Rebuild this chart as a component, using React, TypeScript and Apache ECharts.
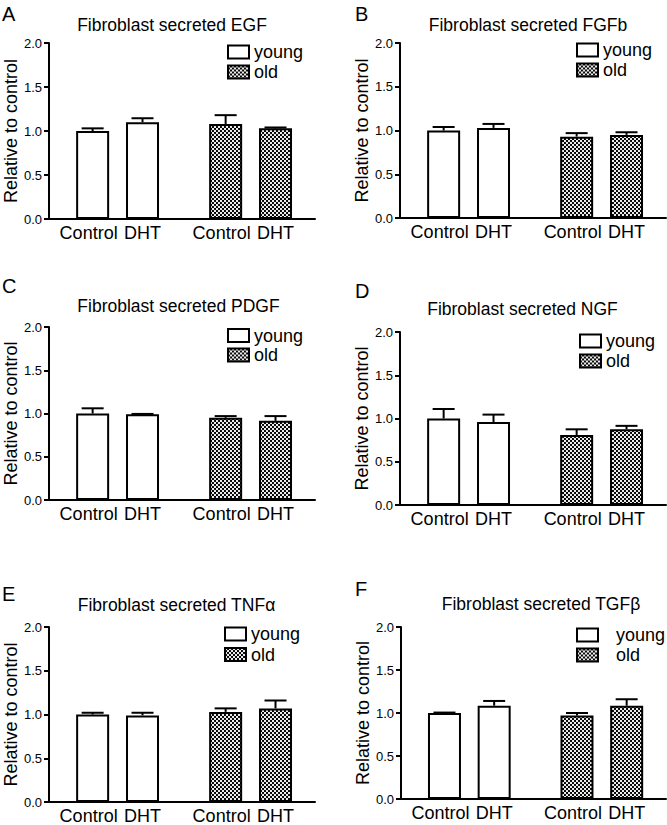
import React, { useEffect, useRef } from 'react';
import * as echarts from 'echarts';

// ---------- data ----------
const panelLetters = ['A', 'B', 'C', 'D', 'E', 'F'];
const panelTitles = [
  'Fibroblast secreted EGF',
  'Fibroblast secreted FGFb',
  'Fibroblast secreted PDGF',
  'Fibroblast secreted NGF',
  'Fibroblast secreted TNFα',
  'Fibroblast secreted TGFβ',
];
const groupNames = ['young', 'old'];
const barLabels = ['Control', 'DHT', 'Control', 'DHT'];
const yTicks = [0, 0.5, 1.0, 1.5, 2.0];
const yAxisTitle = 'Relative to control';

// order: young Control, young DHT, old Control, old DHT
const egfMeans = [1.0, 1.1, 1.08, 1.03];
const egfErrors = [0.03, 0.045, 0.1, 0.01];
const fgfbMeans = [1.0, 1.03, 0.93, 0.95];
const fgfbErrors = [0.04, 0.045, 0.04, 0.03];
const pdgfMeans = [1.0, 0.99, 0.95, 0.915];
const pdgfErrors = [0.06, 0.005, 0.02, 0.055];
const ngfMeans = [1.0, 0.96, 0.81, 0.875];
const ngfErrors = [0.11, 0.085, 0.065, 0.04];
const tnfMeans = [1.0, 0.99, 1.03, 1.07];
const tnfErrors = [0.02, 0.03, 0.04, 0.09];
const tgfMeans = [1.0, 1.085, 0.97, 1.085];
const tgfErrors = [0.005, 0.055, 0.03, 0.075];

const allMeans = [egfMeans, fgfbMeans, pdgfMeans, ngfMeans, tnfMeans, tgfMeans];
const allErrors = [egfErrors, fgfbErrors, pdgfErrors, ngfErrors, tnfErrors, tgfErrors];
const barGroup = [0, 0, 1, 1]; // 0 = young, 1 = old

// ---------- layout ----------
const FONT = "'Liberation Sans', Arial, Helvetica, sans-serif";
const SLOT_COUNT = 64;
const BAR_SLOTS = [10, 22, 42, 54];

const layout = [
  { left: 49, top: 43, height: 176, width: 266, title: [172, 24.5], letter: [2, 13.5], legend: [227, 43, 2, 0] },
  { left: 400, top: 43, height: 175, width: 266, title: [528, 24.5], letter: [355, 13.5], legend: [576, 41, 2, 0] },
  { left: 49, top: 327, height: 173, width: 266, title: [178.5, 305.8], letter: [2, 285.5], legend: [227, 326.5, 1.5, 0] },
  { left: 400, top: 332, height: 173, width: 266, title: [522.5, 309], letter: [355, 290.5], legend: [579, 332, 2, 0] },
  { left: 49, top: 627, height: 175, width: 266, title: [176.5, 604.8], letter: [2, 593.5], legend: [224, 625, 2.5, 0] },
  { left: 401, top: 627, height: 172, width: 265, title: [541, 604], letter: [355, 588.5], legend: [576, 626, 2, 13] },
];

function makeHatch(): HTMLCanvasElement {
  const c = document.createElement('canvas');
  c.width = 16;
  c.height = 16;
  const ctx = c.getContext('2d')!;
  ctx.fillStyle = '#000';
  ctx.fillRect(0, 0, 16, 16);
  ctx.fillStyle = '#fff';
  ctx.beginPath();
  ctx.arc(4, 4, 4.6, 0, Math.PI * 2);
  ctx.fill();
  ctx.beginPath();
  ctx.arc(12, 12, 4.6, 0, Math.PI * 2);
  ctx.fill();
  return c;
}

export default function App() {
  const ref = useRef<HTMLDivElement>(null);

  useEffect(() => {
    document.body.style.margin = '0';
    const chart = echarts.init(ref.current!, null, { renderer: 'svg' });
    const hatch: any = { image: makeHatch(), repeat: 'repeat', imageWidth: 4, imageHeight: 4 };
    const groupStyles = [
      { color: '#ffffff', borderColor: '#000', borderWidth: 2 },
      { color: hatch, borderColor: '#000', borderWidth: 2 },
    ];

    const slotLabels: any[] = [];
    for (let s = 0; s < SLOT_COUNT; s++) {
      const k = BAR_SLOTS.indexOf(s);
      if (k < 0) slotLabels.push('');
      else if (barLabels[k] === 'Control') slotLabels.push({ value: barLabels[k], textStyle: { padding: [0, 8, 0, 0] } });
      else slotLabels.push(barLabels[k]);
    }

    const grid: any[] = [];
    const xAxis: any[] = [];
    const yAxis: any[] = [];
    const series: any[] = [];
    const legend: any[] = [];
    const graphic: any[] = [];

    layout.forEach((L, i) => {
      grid.push({ left: L.left, top: L.top, width: L.width, height: L.height, containLabel: false });
      xAxis.push({
        gridIndex: i,
        type: 'category',
        data: slotLabels,
        boundaryGap: true,
        axisLine: { show: true, lineStyle: { color: '#000', width: 2 } },
        axisTick: { show: false },
        axisLabel: {
          interval: (_idx: number, v: string) => v !== '',
          fontSize: 18,
          color: '#000',
          fontFamily: FONT,
          margin: 5,
        },
        splitLine: { show: false },
      });
      yAxis.push({
        gridIndex: i,
        type: 'value',
        min: yTicks[0],
        max: yTicks[yTicks.length - 1],
        interval: yTicks[1] - yTicks[0],
        axisLine: { show: true, lineStyle: { color: '#000', width: 2 } },
        axisTick: { show: true, length: 5, lineStyle: { color: '#000', width: 2 } },
        axisLabel: {
          formatter: (v: number) => v.toFixed(1),
          fontSize: 13,
          color: '#000',
          fontFamily: FONT,
          margin: 7,
        },
        splitLine: { show: false },
        name: yAxisTitle,
        nameLocation: 'middle',
        nameGap: 28,
        nameTextStyle: { fontSize: 18, color: '#000', fontFamily: FONT },
      });

      const means = allMeans[i];
      const errs = allErrors[i];
      groupNames.forEach((g, gi) => {
        const data: any[] = new Array(SLOT_COUNT).fill('-');
        means.forEach((m, k) => {
          if (barGroup[k] === gi) data[BAR_SLOTS[k]] = m;
        });
        series.push({
          type: 'bar',
          name: g,
          xAxisIndex: i,
          yAxisIndex: i,
          data,
          barWidth: 33,
          barGap: '-100%',
          itemStyle: groupStyles[gi],
          z: 2,
        });
      });
      series.push({
        type: 'custom',
        name: 'err' + i,
        xAxisIndex: i,
        yAxisIndex: i,
        z: 3,
        data: means.map((m, k) => [BAR_SLOTS[k], m, errs[k]]),
        encode: { x: 0, y: 1 },
        renderItem: (_p: any, api: any) => {
          const x = api.value(0);
          const m = api.value(1);
          const e = api.value(2);
          const base = api.coord([x, m]);
          const top = api.coord([x, m + e]);
          return {
            type: 'group',
            children: [
              { type: 'line', shape: { x1: base[0], y1: base[1], x2: top[0], y2: top[1] }, style: { stroke: '#000', lineWidth: 2 } },
              { type: 'line', shape: { x1: top[0] - 11, y1: top[1], x2: top[0] + 11, y2: top[1] }, style: { stroke: '#000', lineWidth: 2 } },
            ],
          };
        },
      });

      legend.push({
        data: groupNames,
        orient: 'vertical',
        left: L.legend[0],
        top: L.legend[1],
        itemGap: L.legend[2],
        padding: 0,
        itemWidth: 21,
        itemHeight: 13,
        icon: 'rect',
        selectedMode: false,
        itemStyle: { borderColor: '#000', borderWidth: 2 },
        textStyle: { fontSize: 18, color: '#000', fontFamily: FONT, padding: [0, 0, 0, L.legend[3]] },
      });

      graphic.push({
        type: 'text',
        x: L.title[0],
        y: L.title[1],
        style: { text: panelTitles[i], fontSize: 17.5, fill: '#000', fontFamily: FONT, textAlign: 'center', textVerticalAlign: 'middle' },
      });
      graphic.push({
        type: 'text',
        x: L.letter[0],
        y: L.letter[1],
        style: { text: panelLetters[i], fontSize: 20, fill: '#000', fontFamily: FONT, textAlign: 'left', textVerticalAlign: 'middle' },
      });
    });

    chart.setOption({
      animation: false,
      backgroundColor: '#fff',
      textStyle: { fontFamily: FONT },
      grid,
      xAxis,
      yAxis,
      series,
      legend,
      graphic,
    });
    return () => chart.dispose();
  }, []);

  return <div ref={ref} style={{ width: 667, height: 825, position: 'absolute', left: 0, top: 0 }} />;
}
